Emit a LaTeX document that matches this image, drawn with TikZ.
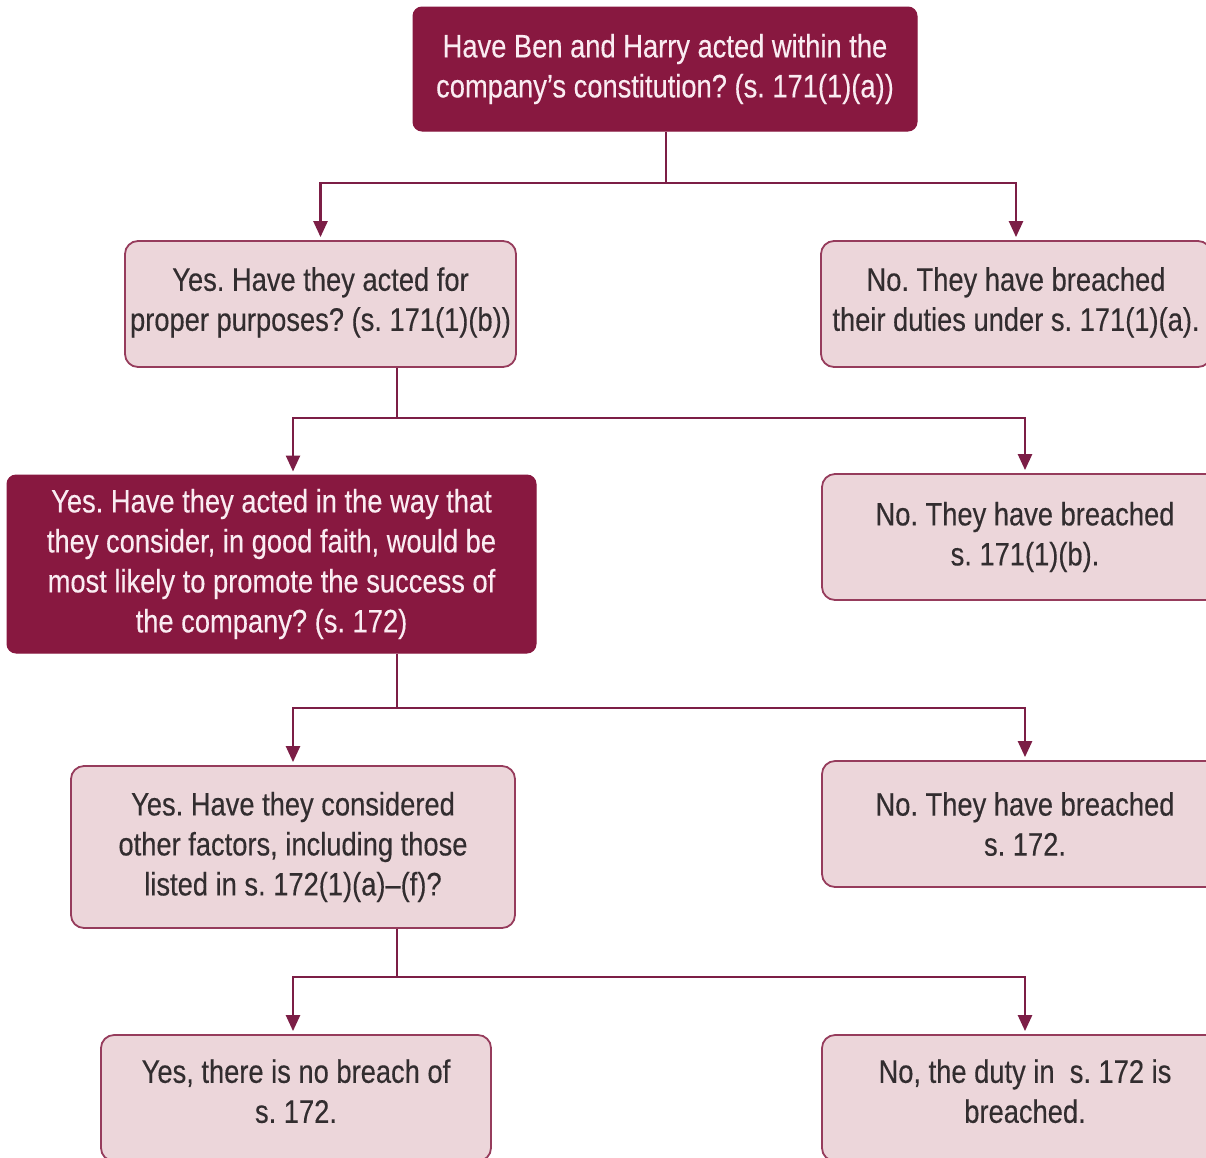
\documentclass[tikz,border=0pt]{standalone}
\usepackage{fontspec}
\setmainfont{Liberation Sans}[FakeStretch=0.84,FakeBold=0.3]
\usetikzlibrary{arrows.meta}
\definecolor{maroon}{RGB}{136,24,64}
\definecolor{pinkbg}{RGB}{236,214,218}
\definecolor{pinkline}{RGB}{150,60,92}
\definecolor{linecol}{RGB}{124,30,70}
\definecolor{txtgray}{RGB}{50,45,47}
\definecolor{txtlight}{RGB}{250,236,242}
\frenchspacing
\tikzset{
  boxtext/.style={font=\fontsize{32.5}{40}\selectfont\frenchspacing, align=center, inner sep=0pt},
  darkbox/.style={boxtext, fill=maroon, draw=maroon, line width=1pt, rounded corners=9pt, text=txtlight},
  lightbox/.style={boxtext, fill=pinkbg, draw=pinkline, line width=1.8pt, rounded corners=13pt, text=txtgray},
  conn/.style={draw=linecol, line width=2.5pt},
  arr/.style={conn, -{Triangle[length=16pt,width=14pt]}, shorten >=3pt}
}
\begin{document}
\begin{tikzpicture}[x=1pt,y=-1pt]
\useasboundingbox (0,0) rectangle (1206,1157);
\clip (0,0) rectangle (1206,1157);
% boxes
\node[darkbox, minimum width=504pt, minimum height=124pt] (top) at (665,69)
  {Have Ben and Harry acted within the\\company’s constitution? (s. 171(1)(a))};
\node[lightbox, minimum width=391pt, minimum height=126pt] (yes1) at (320.5,304)
  {Yes. Have they acted for\\proper purposes? (s. 171(1)(b))\\[-30pt]};
\node[lightbox, minimum width=390pt, minimum height=126pt] (no1) at (1016,304)
  {No. They have breached\\their duties under s. 171(1)(a).\\[-30pt]};
\node[darkbox, minimum width=529pt, minimum height=178pt] (yes2) at (271.5,564)
  {Yes. Have they acted in the way that\\they consider, in good faith, would be\\most likely to promote the success of\\the company? (s. 172)};
\node[lightbox, minimum width=406pt, minimum height=126pt] (no2) at (1025,537)
  {No. They have breached\\s. 171(1)(b).};
\node[lightbox, minimum width=444pt, minimum height=162pt] (yes3) at (293,847)
  {Yes. Have they considered\\other factors, including those\\listed in s. 172(1)(a)–(f)?};
\node[lightbox, minimum width=406pt, minimum height=126pt] (no3) at (1025,824)
  {No. They have breached\\s. 172.};
\node[lightbox, minimum width=390pt, minimum height=126pt] (yes4) at (296,1098)
  {Yes, there is no breach of\\s. 172.\\[-26pt]};
\node[lightbox, minimum width=406pt, minimum height=126pt] (no4) at (1025,1098)
  {No, the duty in\ \ s. 172 is\\breached.\\[-26pt]};
% junctions
\coordinate (j0) at (666,183);
\coordinate (j1) at (397,418);
\coordinate (j2) at (397,708);
\coordinate (j3) at (397,977);
% connectors
\draw[conn] (top.south -| j0) -- (j0);
\draw[arr] (j0) -| (yes1.north);
\draw[arr] (j0) -| (no1.north);
\draw[conn] (yes1.south -| j1) -- (j1);
\draw[arr] (j1) -| (yes3.north |- yes2.north);
\draw[arr] (j1) -| (no2.north);
\draw[conn] (yes2.south -| j2) -- (j2);
\draw[arr] (j2) -| (yes3.north);
\draw[arr] (j2) -| (no3.north);
\draw[conn] (yes3.south -| j3) -- (j3);
\draw[arr] (j3) -| (yes3.north |- yes4.north);
\draw[arr] (j3) -| (no3.north |- no4.north);
\end{tikzpicture}
\end{document}
